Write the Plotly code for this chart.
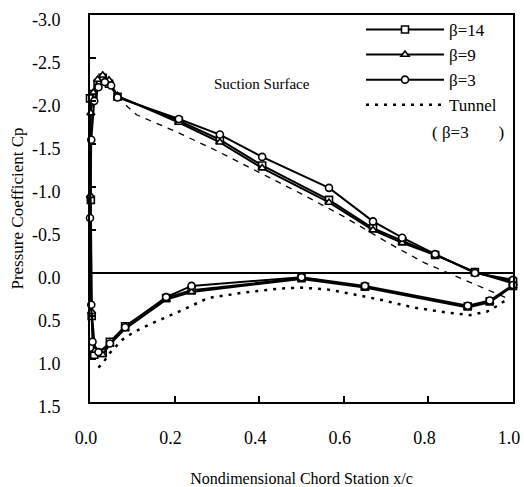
import plotly.graph_objects as go

# ---- data ----
# each experimental series: upper surface TE -> LE -> lower surface TE
x_b14 = [1.0, 0.91, 0.816, 0.738, 0.669, 0.565, 0.407, 0.307, 0.21, 0.065, 0.045, 0.03, 0.018, 0.008, 0.0,
         0.002, 0.004, 0.01, 0.03, 0.047, 0.083, 0.18, 0.24, 0.5, 0.65, 0.893, 0.945, 1.0]
cp_b14 = [0.10, -0.01, -0.21, -0.37, -0.52, -0.85, -1.25, -1.55, -1.77, -2.05, -2.20, -2.27, -2.20, -2.08, -2.03,
          -0.85, 0.50, 0.95, 0.93, 0.80, 0.62, 0.29, 0.20, 0.06, 0.16, 0.39, 0.33, 0.15]

x_b9 = [1.0, 0.91, 0.816, 0.738, 0.669, 0.565, 0.407, 0.307, 0.21, 0.065, 0.045, 0.03, 0.018, 0.008, 0.002,
        0.001, 0.004, 0.012, 0.03, 0.047, 0.083, 0.18, 0.24, 0.5, 0.65, 0.893, 0.945, 1.0]
cp_b9 = [0.12, -0.01, -0.21, -0.35, -0.50, -0.82, -1.22, -1.52, -1.75, -2.06, -2.24, -2.30, -2.25, -2.10, -1.86,
         -0.90, 0.45, 0.90, 0.95, 0.83, 0.65, 0.31, 0.22, 0.07, 0.17, 0.40, 0.34, 0.15]

x_b3 = [1.0, 0.91, 0.816, 0.738, 0.669, 0.565, 0.407, 0.307, 0.21, 0.065, 0.05, 0.035, 0.02, 0.01, 0.003,
        0.0, 0.003, 0.006, 0.02, 0.047, 0.083, 0.18, 0.24, 0.5, 0.65, 0.893, 0.945, 1.0]
cp_b3 = [0.08, 0.00, -0.22, -0.41, -0.60, -0.99, -1.35, -1.61, -1.79, -2.04, -2.18, -2.22, -2.16, -2.00, -1.55,
         -0.64, 0.37, 0.80, 0.92, 0.82, 0.63, 0.28, 0.15, 0.05, 0.15, 0.38, 0.32, 0.14]

# tunnel (beta = 3), suction side and pressure side
x_tun_up = [0.085, 0.11, 0.205, 0.30, 0.40, 0.50, 0.595, 0.705, 0.79, 0.875, 0.94, 0.985]
cp_tun_up = [-1.95, -1.84, -1.64, -1.42, -1.17, -0.92, -0.67, -0.35, -0.12, 0.06, 0.20, 0.29]

x_tun_lo = [0.02, 0.03, 0.047, 0.075, 0.106, 0.149, 0.205, 0.245, 0.28, 0.36, 0.45, 0.50, 0.56, 0.615,
            0.686, 0.764, 0.844, 0.898, 0.938, 0.96, 0.985]
cp_tun_lo = [1.10, 1.05, 0.93, 0.78, 0.68, 0.58, 0.46, 0.37, 0.29, 0.23, 0.18, 0.17, 0.19, 0.24,
             0.31, 0.40, 0.46, 0.49, 0.45, 0.39, 0.31]

y_tickvals = [-3.0, -2.5, -2.0, -1.5, -1.0, -0.5, 0.0, 0.5, 1.0, 1.5]
y_ticktext = ["-3.0", "-2.5", "-2.0", "-1.5", "-1.0", "-0.5", "0.0", "0.5", "1.0", "1.5"]
x_tickvals = [0.0, 0.2, 0.4, 0.6, 0.8, 1.0]
x_ticktext = ["0.0", "0.2", "0.4", "0.6", "0.8", "1.0"]

SERIF = "Liberation Serif, Times New Roman, serif"

fig = go.Figure()

def exp_trace(x, y, name, symbol):
    return go.Scatter(
        x=x, y=y, name=name, mode="lines+markers",
        line=dict(color="black", width=2),
        marker=dict(symbol=symbol, size=7, color="white", line=dict(color="black", width=1.6)),
        cliponaxis=False,
    )

fig.add_trace(exp_trace(x_b14, cp_b14, "β=14", "square"))
fig.add_trace(exp_trace(x_b9, cp_b9, "β=9", "triangle-up"))
fig.add_trace(exp_trace(x_b3, cp_b3, "β=3", "circle"))
fig.add_trace(go.Scatter(
    x=x_tun_lo, y=cp_tun_lo, name="Tunnel", mode="lines", legendgroup="tun",
    line=dict(color="black", width=2.5, dash="3px,6px"), cliponaxis=False,
))
fig.add_trace(go.Scatter(
    x=x_tun_up, y=cp_tun_up, name="Tunnel", mode="lines", legendgroup="tun", showlegend=False,
    line=dict(color="black", width=1.3, dash="6px,6px"), cliponaxis=False,
))

fig.add_annotation(x=0.407, y=-2.2, text="Suction Surface", showarrow=False,
                   font=dict(family=SERIF, size=15, color="black"))
fig.add_annotation(xref="paper", yref="paper", x=(430 - 90) / 423, y=1 - (132 - 15) / 387,
                   xanchor="left", yanchor="middle",
                   text="( β=3&nbsp;&nbsp;&nbsp;&nbsp;&nbsp;&nbsp; )",
                   showarrow=False, font=dict(family=SERIF, size=17, color="black"))

fig.update_layout(
    width=524, height=487,
    margin=dict(l=90, r=11, t=15, b=85),
    paper_bgcolor="white", plot_bgcolor="white",
    font=dict(family=SERIF, color="black"),
    showlegend=True,
    legend=dict(x=(361 - 90) / 423, y=1.008, xanchor="left", yanchor="top",
                bgcolor="rgba(255,255,255,0)", font=dict(family=SERIF, size=17),
                itemwidth=78, tracegroupgap=0),
    xaxis=dict(range=[0, 1.0], tickvals=x_tickvals, ticktext=x_ticktext,
               ticks="inside", ticklen=6, tickwidth=1.5, tickcolor="black",
               showline=True, linecolor="black", linewidth=2, mirror=True,
               showgrid=False, zeroline=False, automargin=False,
               tickfont=dict(family=SERIF, size=18),
               ticklabelstandoff=18, ticklabeloverflow="allow", ticklabelshift=-4,
               title=dict(text="Nondimensional Chord Station x/c", standoff=27,
                          font=dict(family=SERIF, size=16))),
    yaxis=dict(range=[1.5, -3.0], tickvals=y_tickvals, ticktext=y_ticktext,
               ticks="inside", ticklen=6, tickwidth=1.5, tickcolor="black",
               showline=True, linecolor="black", linewidth=2, mirror=True,
               showgrid=False, zeroline=True, zerolinecolor="black", zerolinewidth=1.5,
               automargin=False, ticklabeloverflow="allow", ticklabelshift=-5,
               tickfont=dict(family=SERIF, size=18),
               ticklabelstandoff=24,
               title=dict(text="Pressure Coefficient Cp", standoff=4,
                          font=dict(family=SERIF, size=17))),
)

fig.write_html("out.html")
